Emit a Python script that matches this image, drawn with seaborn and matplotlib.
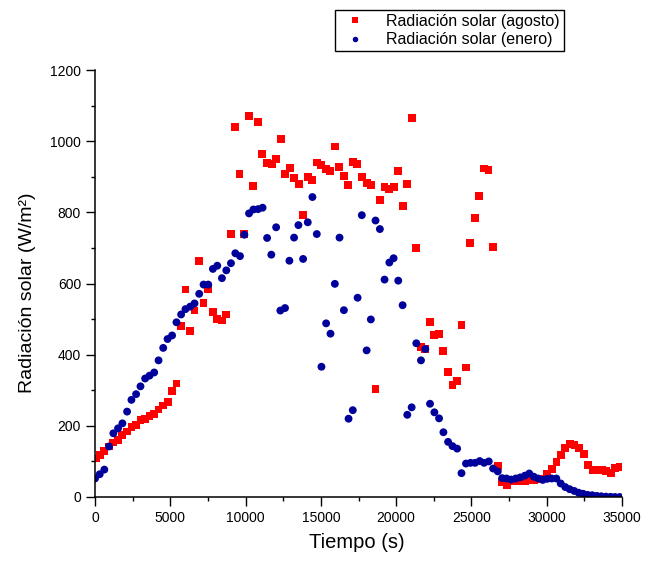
import numpy as np
import pandas as pd
import matplotlib
matplotlib.use("Agg")
import matplotlib.pyplot as plt
import seaborn as sns
from matplotlib.ticker import MultipleLocator

# ---- data ----
agosto_t = [40, 310, 620, 930, 1220, 1530, 1820, 2130, 2420, 2730, 3020, 3330, 3620, 3930,
            4220, 4530, 4820, 5120, 5410, 5720, 6010, 6320, 6610, 6920, 7210, 7520, 7830,
            8120, 8430, 8720, 9010, 9320, 9600, 9920, 10230, 10520, 10830, 11110, 11430,
            11730, 12030, 12330, 12620, 12930, 13220, 13530, 13820, 14130, 14420, 14730,
            15020, 15330, 15620, 15930, 16220, 16530, 16810, 17120, 17410, 17720, 18040,
            18320, 18630, 18920, 19230, 19520, 19830, 20140, 20430, 20740, 21030, 21340,
            21650, 21940, 22230, 22540, 22850, 23140, 23430, 23740, 24050, 24340, 24640,
            24930, 25240, 25530, 25840, 26130, 26440, 26750, 27040, 27350, 27640, 27950,
            28260, 28550, 28860, 29150, 29460, 29750, 30030, 30340, 30650, 30940, 31240,
            31540, 31850, 32140, 32450, 32740, 33050, 33360, 33650, 33960, 34270, 34560,
            34870]
agosto_r = [108, 118, 130, 142, 153, 161, 174, 184, 197, 203, 216, 219, 227, 233,
            246, 257, 268, 298, 319, 480, 583, 467, 524, 664, 544, 584, 519,
            501, 496, 513, 738, 1040, 908, 739, 1071, 873, 1055, 965, 938,
            935, 951, 1006, 907, 925, 897, 880, 792, 900, 892, 940,
            934, 921, 917, 985, 928, 902, 878, 941, 935, 899, 882,
            878, 304, 835, 871, 865, 870, 916, 819, 879, 1065, 700,
            421, 415, 493, 456, 458, 411, 352, 314, 325, 484, 364,
            714, 783, 846, 923, 918, 703, 88, 43, 33, 46, 45,
            46, 45, 47, 47, 50, 52, 66, 78, 98, 118, 137,
            148, 146, 138, 120, 91, 77, 77, 77, 74, 67, 81,
            85]

enero_t = [0, 312, 620, 932, 1220, 1530, 1820, 2130, 2420, 2730, 3020, 3330, 3620, 3930,
           4220, 4530, 4820, 5120, 5410, 5720, 6010, 6320, 6610, 6920, 7210, 7520, 7830,
           8120, 8430, 8720, 9030, 9320, 9630, 9920, 10230, 10520, 10830, 11130, 11430,
           11710, 12030, 12310, 12620, 12910, 13220, 13510, 13820, 14130, 14440, 14730,
           15040, 15350, 15640, 15930, 16240, 16530, 16840, 17120, 17440, 17720, 18040,
           18320, 18630, 18920, 19230, 19550, 19830, 20140, 20430, 20740, 21030, 21340,
           21650, 21940, 22250, 22540, 22850, 23140, 23450, 23740, 24050, 24340, 24640,
           24940, 25240, 25550, 25840, 26150, 26440, 26750, 27040, 27330, 27640, 27950,
           28240, 28550, 28840, 29140, 29430, 29740, 30030, 30330, 30640, 30930, 31230,
           31520, 31830, 32120, 32420, 32710, 33020, 33330, 33620, 33930, 34240, 34530,
           34840]
enero_r = [52, 64, 77, 142, 179, 193, 207, 240, 273, 289, 311, 333, 341, 350,
           384, 419, 444, 454, 491, 513, 528, 535, 544, 571, 597, 597, 641,
           650, 615, 637, 657, 685, 677, 737, 797, 808, 809, 813, 728,
           681, 758, 524, 531, 664, 729, 764, 669, 772, 843, 739,
           366, 488, 459, 599, 729, 525, 220, 244, 560, 792, 412,
           499, 777, 753, 611, 659, 671, 608, 539, 231, 252, 432,
           384, 416, 262, 238, 221, 182, 155, 143, 136, 67, 94,
           96, 96, 101, 96, 100, 80, 72, 53, 52, 49, 52,
           55, 60, 66, 57, 52, 48, 51, 52, 52, 38, 28,
           22, 17, 12, 9, 6, 5, 3, 2, 1, 0.5, 0,
           0]

labels = ["Radiación solar (agosto)", "Radiación solar (enero)"]
x_ticks = [0, 5000, 10000, 15000, 20000, 25000, 30000, 35000]
y_ticks = [0, 200, 400, 600, 800, 1000, 1200]

df = pd.concat([
    pd.DataFrame({"t": agosto_t, "r": agosto_r, "serie": labels[0]}),
    pd.DataFrame({"t": enero_t, "r": enero_r, "serie": labels[1]}),
], ignore_index=True)

sns.set_style("ticks")
plt.rcParams["font.family"] = ["Liberation Sans", "DejaVu Sans"]
plt.rcParams["text.color"] = "black"
plt.rcParams["axes.labelcolor"] = "black"
plt.rcParams["xtick.color"] = "black"
plt.rcParams["ytick.color"] = "black"

W, H = 646, 564
fig = plt.figure(figsize=(W / 100, H / 100), dpi=100)
ax = fig.add_axes([95 / W, 1 - 497 / H, (622 - 95) / W, (497 - 70) / H])

sns.scatterplot(data=df, x="t", y="r", hue="serie", style="serie",
                palette={labels[0]: "#ff0000", labels[1]: "#00009a"},
                markers={labels[0]: "s", labels[1]: "o"},
                s=32, linewidth=0, ax=ax, legend=True)

ax.set_xlim(0, 35000)
ax.set_ylim(0, 1200)
ax.set_xticks(x_ticks)
ax.set_yticks(y_ticks)
ax.xaxis.set_minor_locator(MultipleLocator(2500))
ax.yaxis.set_minor_locator(MultipleLocator(100))
ax.tick_params(which="major", direction="out", length=6.5, width=1, labelsize=10,
               colors="black", pad=3.5)
ax.tick_params(which="minor", direction="out", length=3, width=1, colors="black")
for sp in ["top", "right"]:
    ax.spines[sp].set_visible(False)
for sp in ["left", "bottom"]:
    ax.spines[sp].set_linewidth(1.1)
    ax.spines[sp].set_color("black")

ax.set_xlabel("Tiempo (s)", fontsize=14.5, color="black")
ax.set_ylabel("Radiación solar (W/m²)", fontsize=14, color="black")
ax.xaxis.set_label_coords(0.497, -0.085)
ax.yaxis.set_label_coords(-0.112, 0.478)

sns.move_legend(ax, "upper left", bbox_to_anchor=(335 / W, 1 - 10 / H),
                bbox_transform=fig.transFigure, title=None, frameon=True,
                fancybox=False, framealpha=1, edgecolor="black", fontsize=11.5,
                borderpad=0.25, labelspacing=0.2, handlelength=2.0,
                handletextpad=0.95, borderaxespad=0, markerscale=0.7)
leg = ax.get_legend()
leg.get_frame().set_linewidth(1.0)
for t in leg.get_texts():
    t.set_color("black")

fig.savefig("out.png", dpi=100)
